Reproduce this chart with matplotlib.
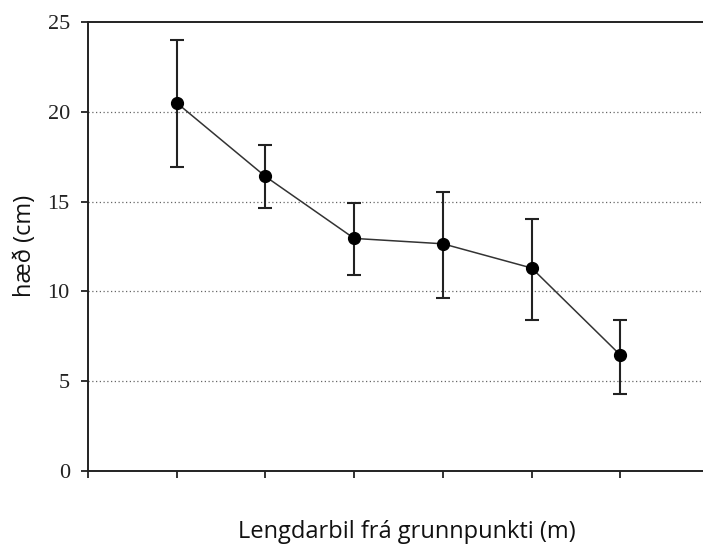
import numpy as np
import matplotlib.pyplot as plt

# distance classes along the transect and mean height with error range
stations = [1, 2, 3, 4, 5, 6]
mean_height = [20.5, 16.4, 12.95, 12.65, 11.3, 6.45]
upper = [24.0, 18.15, 14.9, 15.55, 14.05, 8.4]
lower = [16.95, 14.65, 10.9, 9.65, 8.4, 4.3]

yticks = [0, 5, 10, 15, 20, 25]

err_lo = np.array(mean_height) - np.array(lower)
err_hi = np.array(upper) - np.array(mean_height)

fig = plt.figure(figsize=(7.03, 5.46), dpi=100)
ax = fig.add_axes([0.125, 0.1374, 0.875, 0.8223])

ax.plot(stations, mean_height, color='#333333', lw=1.1, zorder=3)
ax.errorbar(stations, mean_height, yerr=[err_lo, err_hi], fmt='none',
            ecolor='#222222', elinewidth=1.5, capsize=5, capthick=1.5, zorder=3)
ax.plot(stations, mean_height, 'o', color='black', ms=8.5, zorder=4)

ax.set_xlim(0, 6.93)
ax.set_ylim(0, 25)
ax.set_xticks(range(0, 7))
ax.set_xticklabels([])
ax.set_yticks(yticks)
ax.set_yticklabels([str(t) for t in yticks], fontfamily='Liberation Serif',
                   fontsize=16, color='#222222')

for g in yticks[1:-1]:
    ax.axhline(g, color='#666666', lw=0.9, ls=(0, (1, 2)), zorder=1)

ax.spines['right'].set_visible(False)
for s in ['left', 'top', 'bottom']:
    ax.spines[s].set_linewidth(1.4)
    ax.spines[s].set_color('#222222')
ax.tick_params(axis='both', direction='out', length=5, width=1.3, color='#222222')
ax.tick_params(axis='y', pad=8)

fig.text(0.578, 0.014, 'Lengdarbil frá grunnpunkti (m)', fontfamily='Open Sans',
         fontsize=17, ha='center', va='baseline', color='#111111')
fig.text(0.036, 0.55, 'hæð (cm)', fontfamily='Open Sans', fontsize=17,
         rotation=90, ha='center', va='center', color='#111111')

fig.savefig('out.png', dpi=100)
